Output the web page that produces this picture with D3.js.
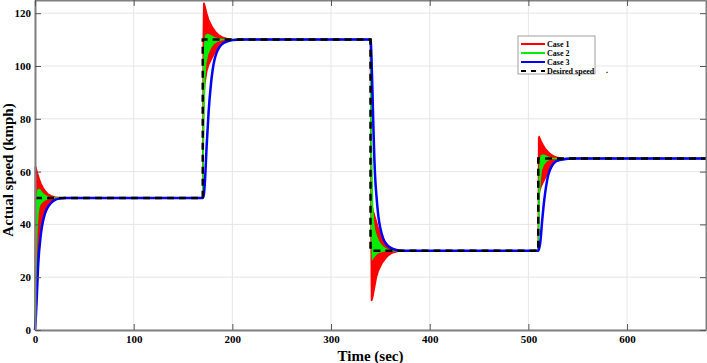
<!DOCTYPE html>
<html><head><meta charset="utf-8">
<script src="https://cdn.jsdelivr.net/npm/d3@7"></script>
<style>
body{margin:0;background:#fff;}
svg text{font-family:"Liberation Serif","Times New Roman",serif;font-weight:bold;}
</style></head>
<body><svg id="c" width="707" height="363"></svg>
<script>
// ---- data ----
const xTicks = [0,100,200,300,400,500,600];
const yTicks = [0,20,40,60,80,100,120];
const seriesNames = ["Case 1","Case 2","Case 3","Desired speed"];

const stepTimes = [0,170,340,510,680];
const setpoints = [50,110,30,65,65];

const case1Time  = [0,0.4,1,2,3,4,5,6,8,10,13,16,20,25,30, 170,170.5,171,172,174,176,178,180,183,186,190,195,200, 340,340.5,341,342,344,346,348,350,352,355,358,362,368,372, 510,510.4,511,513,515,517,520,523,526,530,535, 680];
const case1Upper = [0,62,61.5,60,58.8,57.6,56.5,55.5,54,52.8,51.6,50.9,50.4,50.1,50, 50,110,124,123,120,117.5,116,114.5,113,111.8,110.9,110.3,110, 110,75,50,46,43.5,41,38.5,36.5,35,33.3,32,30.9,30.2,30, 30,73,73.2,71.5,70,68.8,67.5,66.5,65.8,65.3,65, 65];
const case1Lower = [0,2,6,15,26,32,36,39,42,44,46.5,48.2,49.3,49.9,50, 50,70,85,93,98,100.5,102,103.5,105.5,107.3,108.7,109.7,110, 110,40,11,12,16,20,22.5,24,25.5,27,28.2,29.2,29.8,30, 30,45,52,54.5,56,57.5,59.5,61.5,63.2,64.4,65, 65];

const case2Time  = [0,0.5,1,2,3,4,5,7,10,13,16, 170,171,172,173,175,178,181,185,190, 340,341,342,343,344,346,348,350,353,356,360,364, 510,511,512,513,515,518,521,525,530, 680];
const case2Upper = [0,25,42,51,53,53.2,53,52,51,50.4,50, 50,100,108,111.5,112,111.5,110.8,110.3,110, 110,70,48,41,38,35.5,33.8,32.5,31.3,30.6,30.1,30, 30,58,64,66,66.3,65.8,65.3,65,65, 65];
const case2Lower = [0,12,25,38,44,46.5,47.5,48.5,49.3,49.8,50, 50,80,95,101,104.5,107,108.5,109.5,110, 110,40,27,27.5,28,28.8,29.3,29.6,29.9,30,30,30, 30,50,57,60.5,62.5,64,64.6,65,65, 65];

const case3Time  = [0,1,2,3,4,5,6,8,10,13,16,20,25,30, 170,171,172,174,176,178,180,182,184,187,190,195,200,210, 340,341,342,343,344,345,346,348,350,353,356,360,365,372, 510,512,514,516,518,520,522,524,527,530,535,540,545, 680];
const case3Speed = [0,6,14,23,29,33,36.5,41,44,46.5,48,49.2,49.8,50, 50,51,55,70,83,92,98.5,102.5,105,107.2,108.4,109.3,109.8,110, 110,103,90,76,64,56,51,43,38.5,34.5,32.5,31.2,30.4,30, 30,33,41.5,49,54.5,58.5,60.8,62.3,63.6,64.2,64.6,64.9,65, 65];

const colors = ["#ff0000","#00ee00","#0000ff","#000000"];

// ---- chart ----
const svg = d3.select("#c");
const L=35, R=706, T=0, B=330;
const x = d3.scaleLinear().domain([0,680]).range([L,R]);
const y = d3.scaleLinear().domain([0,125]).range([B,T]);

// grid
const g = svg.append("g");
g.selectAll(".vg").data(xTicks).join("line")
  .attr("x1",d=>x(d)).attr("x2",d=>x(d)).attr("y1",T).attr("y2",B)
  .attr("stroke","#e6e6e6").attr("stroke-width",1);
g.selectAll(".hg").data(yTicks).join("line")
  .attr("x1",L).attr("x2",R).attr("y1",d=>y(d)).attr("y2",d=>y(d))
  .attr("stroke","#e6e6e6").attr("stroke-width",1);

function bandData(t,u,l){return t.map((d,i)=>({t:d,u:u[i],l:l[i]}));}
const area = d3.area().x(d=>x(d.t)).y0(d=>y(d.l)).y1(d=>y(d.u));

svg.append("path").datum(bandData(case1Time,case1Upper,case1Lower))
  .attr("d",area).attr("fill",colors[0]).attr("stroke",colors[0]).attr("stroke-width",1.5);
svg.append("path").datum(bandData(case2Time,case2Upper,case2Lower))
  .attr("d",area).attr("fill",colors[1]).attr("stroke",colors[1]).attr("stroke-width",1.5);

const line3 = d3.line().x((d,i)=>x(case3Time[i])).y(d=>y(d)).curve(d3.curveMonotoneX);
svg.append("path").datum(case3Speed).attr("d",line3)
  .attr("fill","none").attr("stroke",colors[2]).attr("stroke-width",2.5);

const lineD = d3.line().x((d,i)=>x(stepTimes[i])).y(d=>y(d)).curve(d3.curveStepAfter);
svg.append("path").datum(setpoints).attr("d",lineD)
  .attr("fill","none").attr("stroke",colors[3]).attr("stroke-width",2.5).attr("stroke-dasharray","7,5");

// axes
const ax = svg.append("g").attr("transform",`translate(0,${B})`)
  .call(d3.axisBottom(x).tickValues(xTicks).tickSize(-6).tickPadding(5).tickSizeOuter(0));
const ay = svg.append("g").attr("transform",`translate(${L},0)`)
  .call(d3.axisLeft(y).tickValues(yTicks).tickSize(-6).tickPadding(4).tickSizeOuter(0));
const axT = svg.append("g").attr("transform",`translate(0,${T})`)
  .call(d3.axisTop(x).tickValues(xTicks).tickSize(-6).tickFormat("").tickSizeOuter(0));
const ayR = svg.append("g").attr("transform",`translate(${R},0)`)
  .call(d3.axisRight(y).tickValues(yTicks).tickSize(-6).tickFormat("").tickSizeOuter(0));
[ax,ay,axT,ayR].forEach(a=>{
  a.select(".domain").attr("stroke","#808080").attr("stroke-width",2);
  a.selectAll(".tick line").attr("stroke","#555");
  a.selectAll("text").attr("font-size",11).attr("fill","#000")
   .style("font-family","'Liberation Serif',serif").style("font-weight","bold");
});

svg.append("text").attr("x",(L+R)/2).attr("y",361).attr("text-anchor","middle")
  .attr("font-size",15).text("Time (sec)");
svg.append("text").attr("transform",`translate(13,${(T+B)/2+5}) rotate(-90)`)
  .attr("text-anchor","middle").attr("font-size",15).text("Actual speed (kmph)");

// legend
const lg = svg.append("g");
lg.append("rect").attr("x",518).attr("y",36).attr("width",77).attr("height",38)
  .attr("fill","#fff").attr("stroke","#a0a0a0").attr("stroke-width",1);
seriesNames.forEach((n,i)=>{
  const yy = 44 + i*9;
  lg.append("line").attr("x1",521).attr("x2",545).attr("y1",yy).attr("y2",yy)
    .attr("stroke",colors[i]).attr("stroke-width",2)
    .attr("stroke-dasharray", i===3 ? "5,5" : null);
  lg.append("text").attr("x",547).attr("y",yy+2.8).attr("font-size",8).text(n);
});
lg.append("text").attr("x",606).attr("y",73).attr("font-size",8).text(".");
</script></body></html>
